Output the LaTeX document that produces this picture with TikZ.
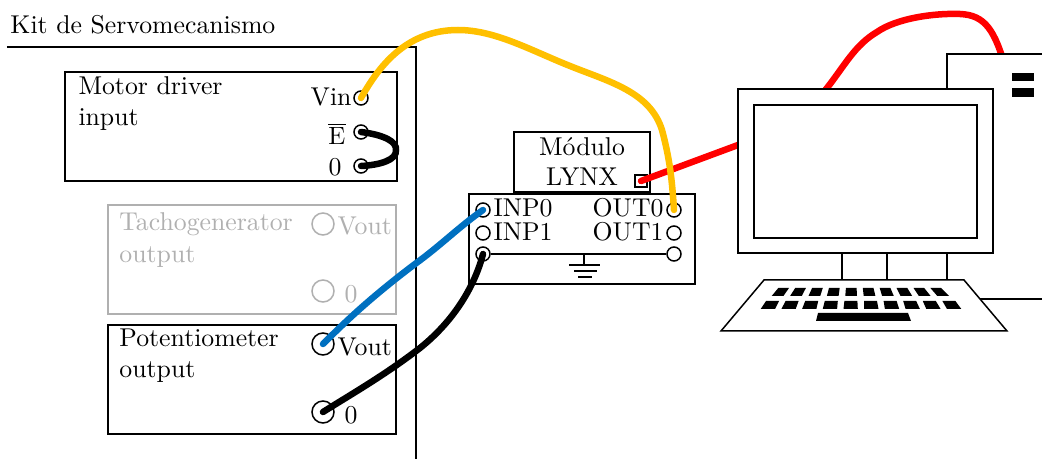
\documentclass[tikz,border=0pt]{standalone}
\usepackage{tikz}
\usepackage{xcolor}
\usepackage{amsmath}
\usetikzlibrary{positioning,calc}
\definecolor{WY}{HTML}{FFC000}
\definecolor{WB}{HTML}{0070C0}
\definecolor{WR}{HTML}{FF0000}
\definecolor{OFF}{HTML}{B0B0B0}
\tikzset{
  every node/.append style={font=\fontsize{10.3}{12.4}\selectfont},
  box/.style={draw, line width=0.6pt, fill=white},
  wire/.style={line width=2.6pt, line cap=round},
  term/.style={draw, circle, inner sep=0pt, minimum size=5.6pt, line width=0.6pt},
  bigterm/.style={draw, circle, inner sep=0pt, minimum size=8.8pt, line width=0.6pt},
  lbl/.style={inner sep=0pt, anchor=base west, align=left},
  lblr/.style={inner sep=0pt, anchor=base east},
}

\begin{document}
\begin{tikzpicture}[x=0.4pt,y=-0.4pt]
        \useasboundingbox (0,0) rectangle (1042,459);
        % kit
        \node[lbl] (kit) at (10,34) {Kit de Servomecanismo};
        \draw[line width=0.8pt] (7,47) -- (416,47) -- (416,459);
        % motor driver
        \draw[box] (65,72) rectangle (397,181);
        \node[lbl, text width=150pt] (motor) at (78,95) {Motor driver\\input};
        \node[term] (vin) at (361,98) {};
        \node[term] (en) at (361,132) {};
        \node[term] (mz) at (361,166) {};
        \node[lblr] (lvin) at (352,106) {Vin};
        \node[lblr] (len) at (346,145) {$\overline{\mathrm{E}}$};
        \node[lblr] (lmz) at (342,176) {0};
        % tachogenerator
        \draw[box, draw=OFF] (108,205) rectangle (396,314);
        \node[lbl, text=OFF, text width=150pt] (tacho) at (119,231) {Tachogenerator\\output};
        \node[bigterm, draw=OFF] (tv) at (323,224) {};
        \node[bigterm, draw=OFF] (tz) at (323,291) {};
        \node[lbl, text=OFF] (ltv) at (337,235) {Vout};
        \node[lbl, text=OFF] (ltz) at (344,303) {0};
        % potentiometer
        \draw[box] (108,325) rectangle (396,434);
        \node[lbl, text width=150pt] (pot) at (119,347) {Potentiometer\\output};
        \node[bigterm] (pv) at (323,344) {};
        \node[bigterm] (pz) at (323,412) {};
        \node[lbl] (lpv) at (337,356) {Vout};
        \node[lbl] (lpz) at (344,424) {0};
        % lynx
        \draw[box] (514,132) rectangle (650,192);
        \node[inner sep=0pt, anchor=base] (mod) at (582,156) {Módulo};
        \node[inner sep=0pt, anchor=base] (lynx) at (582,186) {LYNX};
        \node[draw, line width=0.6pt, inner sep=0pt, minimum size=4.8pt] (port) at (641,181) {};
        \draw[box] (469,194) rectangle (695,284);
        \foreach \n/\y in {0/210,1/233,2/254}{
          \node[term] (i\n) at (483,\y) {};
          \node[term] (o\n) at (674,\y) {};
        }
        \node[lbl] (li0) at (493,217) {INP0};
        \node[lbl] (li1) at (493,241) {INP1};
        \node[lblr] (lo0) at (664,217) {OUT0};
        \node[lblr] (lo1) at (664,241) {OUT1};
        \coordinate (gnd) at (584,265);
        \draw[line width=0.6pt] (i2) -- (o2);
        \draw[line width=0.6pt] (gnd |- o2) -- (gnd);
        \draw[line width=0.6pt] (569,265) -- (600,265);
        \draw[line width=0.6pt] (574,271) -- (597,271);
        \draw[line width=0.6pt] (578,277) -- (592,277);
        % red cable, hidden by the computer
        \coordinate (pc) at (1006,70);
        \draw[wire, color=WR] (port.center) -- (800,122) -- (827,88)
          .. controls (845,65) and (855,45) .. (877,32)
          .. controls (897,18) and (935,13) .. (960,14)
          .. controls (985,15) and (995,30) .. (pc);
        % computer
        \draw[box] (1042,54) -- (947,54) -- (947,299) -- (1042,299);
        \fill[black] (1012,73) rectangle (1034,81);
        \fill[black] (1012,88) rectangle (1034,97);
        \draw[box] (738,89) rectangle (993,253);
        \draw[box] (754,105) rectangle (977,238);
        \draw[box] (842,253) rectangle (887,280);
        \draw[box] (764,280) -- (964,280) -- (1007,331) -- (721,331) -- cycle;
        \foreach \k in {0,...,9}{
          \fill[black] (778.3+\k*16.9,288) -- ++(10.7,0)
            -- (771.7+\k*18.4+11.7,296) -- ++(-11.7,0) -- cycle;
          \fill[black] (766+\k*19.6,301) -- ++(13,0)
            -- (760.7+\k*20.7+14.3,309) -- ++(-14.3,0) -- cycle;
        }
        \fill[black] (818,313) -- (908,313) -- (911,321) -- (816,321) -- cycle;
        % wires
        \draw[wire, color=WY] (vin.center)
          .. controls (378,68) and (405,30) .. (458,30)
          .. controls (495,30) and (530,50) .. (570,66)
          .. controls (610,82) and (650,92) .. (662,130)
          .. controls (670,160) and (672,180) .. (o0.center);
        \draw[wire, color=WB] (pv.center)
          .. controls (345,322) and (370,298) .. (415,264)
          .. controls (440,246) and (460,226) .. (i0.center);
        \draw[wire] (pz.center)
          .. controls (350,395) and (385,375) .. (420,348)
          .. controls (455,320) and (475,285) .. (i2.center);
        \draw[wire] (en.center)
          .. controls (385,135) and (397,142) .. (396,150)
          .. controls (397,160) and (380,165) .. (mz.center);
      \end{tikzpicture}
\end{document}
